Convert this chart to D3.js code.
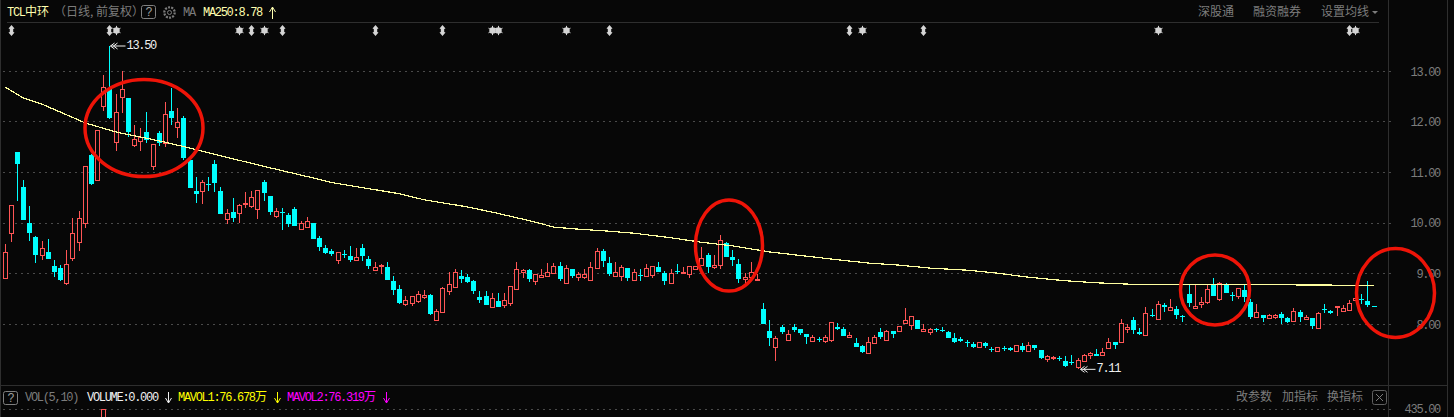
<!DOCTYPE html>
<html>
<head>
<meta charset="utf-8">
<title>TCL中环 日线</title>
<script src="https://cdn.jsdelivr.net/npm/d3@7"></script>
<style>
    html, body { margin: 0; padding: 0; background: #070707; }
    svg { display: block; }
    text { white-space: pre; }
    .num { font-family: "Liberation Mono", monospace; font-size: 12px; letter-spacing: -1.3px; }
    .cjk { font-family: "Noto Sans CJK SC", sans-serif; font-size: 12px; }
</style>
</head>
<body>
<div id="chart"></div>
<script>
// daily candles (index = trading day from the left)
const opens = [
    8.91,9.81,11.40,10.71,10.00,9.73,9.36,9.43,9.15,9.11,
    8.82,9.32,9.63,10.01,11.35,10.85,12.32,12.65,11.60,12.49,
    12.47,11.55,11.63,11.80,11.13,11.78,11.59,12.22,11.90,12.08,
    11.25,10.64,10.64,10.78,11.17,10.63,10.09,10.21,10.19,10.37,
    10.34,10.28,10.81,10.54,10.14,10.21,10.16,10.28,9.89,9.93,
    10.00,9.71,9.51,9.44,9.28,9.39,9.35,9.28,9.51,9.29,
    9.08,9.16,9.13,8.86,8.70,8.41,8.42,8.46,8.54,8.58,
    8.08,8.25,8.66,8.74,8.95,8.93,8.86,8.54,8.56,8.35,
    8.46,8.39,8.43,8.70,9.04,9.07,8.86,8.94,8.96,9.01,
    9.15,8.82,9.09,8.93,8.94,8.88,9.12,9.45,9.21,8.95,
    8.95,9.11,8.88,8.98,8.95,8.97,9.13,9.01,8.82,9.05,
    9.02,9.00,9.09,9.18,9.37,9.13,9.17,9.60,9.33,9.19,
    8.90,8.93,8.88,8.30,7.87,7.55,7.95,7.69,7.95,7.91,
    7.81,7.67,7.71,7.67,7.69,7.95,7.91,7.75,7.63,7.57,
    7.43,7.63,7.85,7.69,7.87,7.87,8.03,7.99,8.09,7.87,
    7.85,7.90,7.89,7.85,7.73,7.71,7.66,7.61,7.56,7.63,
    7.52,7.48,7.53,7.53,7.48,7.57,7.48,7.59,7.49,7.32,
    7.34,7.34,7.27,7.26,7.16,7.28,7.39,7.41,7.40,7.53,
    7.65,7.66,7.91,8.09,7.85,7.79,8.19,8.10,8.38,8.29,
    8.30,8.17,8.60,8.33,8.40,8.45,8.80,8.50,8.78,8.57,
    8.55,8.68,8.44,8.15,8.18,8.12,8.15,8.20,8.12,8.06,
    8.24,8.11,8.12,7.93,8.30,8.26,8.34,8.27,8.29,8.49,
    8.50,8.47,8.36
];
const closes = [
    9.42,10.35,11.17,10.06,9.81,9.36,9.50,9.30,9.04,8.88,
    9.19,9.80,10.11,11.12,10.77,11.84,12.69,12.08,12.19,12.66,
    11.80,11.66,11.70,11.64,11.56,11.59,12.15,12.08,11.99,11.28,
    10.70,10.57,10.81,10.76,10.80,10.17,10.19,10.10,10.35,10.39,
    10.51,10.65,10.59,10.22,10.24,10.19,9.98,9.94,10.00,10.04,
    9.69,9.53,9.41,9.39,9.42,9.37,9.27,9.33,9.35,9.16,
    9.13,9.18,8.87,8.68,8.42,8.49,8.55,8.59,8.58,8.20,
    8.26,8.71,8.79,9.03,8.90,8.83,8.66,8.48,8.38,8.51,
    8.34,8.49,8.75,9.09,9.07,8.90,8.99,8.97,9.03,9.15,
    8.90,9.11,8.95,8.99,8.99,9.13,9.44,9.25,8.99,9.03,
    9.13,8.92,9.03,8.96,9.11,9.15,9.03,8.86,9.01,9.03,
    9.03,9.15,9.15,9.32,9.13,9.17,9.66,9.33,9.27,8.90,
    8.93,9.03,8.89,8.01,7.73,7.72,7.84,7.80,7.89,7.82,
    7.75,7.75,7.69,7.75,8.05,7.91,7.77,7.79,7.55,7.45,
    7.65,7.75,7.75,7.87,7.81,7.97,8.09,8.16,7.91,7.91,
    7.91,7.88,7.87,7.73,7.65,7.67,7.64,7.55,7.66,7.57,
    7.50,7.55,7.51,7.49,7.59,7.49,7.59,7.53,7.33,7.37,
    7.35,7.32,7.17,7.24,7.29,7.39,7.43,7.37,7.45,7.66,
    7.59,8.02,7.95,7.89,7.81,8.22,8.17,8.40,8.34,8.34,
    8.18,8.15,8.42,8.36,8.45,8.69,8.56,8.82,8.62,8.55,
    8.71,8.54,8.14,8.24,8.12,8.18,8.18,8.12,8.05,8.26,
    8.14,8.15,7.97,8.22,8.28,8.23,8.37,8.32,8.43,8.51,
    8.49,8.38,8.35
];
const highs = [
    9.59,10.35,11.40,10.85,10.34,9.75,9.64,9.69,9.27,9.17,
    9.47,10.11,10.24,11.12,11.37,11.84,12.93,13.50,12.55,13.00,
    12.47,11.93,11.87,12.19,11.57,11.82,12.39,12.67,12.27,12.12,
    11.26,10.91,10.85,10.91,11.25,10.71,10.27,10.49,10.38,10.61,
    10.63,10.65,10.85,10.54,10.30,10.29,10.20,10.32,10.04,10.12,
    10.00,9.75,9.57,9.49,9.43,9.47,9.55,9.51,9.59,9.34,
    9.23,9.19,9.23,8.95,8.78,8.56,8.56,8.66,8.68,8.60,
    8.30,8.74,9.03,9.09,9.07,8.99,8.88,8.66,8.66,8.62,
    8.62,8.62,8.75,9.23,9.09,9.09,8.99,9.09,9.21,9.21,
    9.23,9.17,9.10,9.03,9.09,9.23,9.51,9.48,9.33,9.23,
    9.17,9.11,9.09,9.09,9.19,9.15,9.23,9.05,9.09,9.19,
    9.13,9.15,9.15,9.53,9.41,9.37,9.76,9.63,9.47,9.29,
    9.01,9.23,8.99,8.42,8.08,7.77,7.98,7.89,8.01,7.91,
    7.81,7.79,7.74,7.78,8.05,8.03,7.95,7.85,7.73,7.59,
    7.75,7.79,7.93,7.89,7.87,7.97,8.32,8.16,8.09,8.01,
    7.93,7.93,7.95,7.87,7.83,7.75,7.69,7.65,7.66,7.65,
    7.55,7.55,7.57,7.55,7.59,7.63,7.65,7.59,7.49,7.39,
    7.37,7.37,7.37,7.39,7.33,7.41,7.45,7.51,7.53,7.73,
    7.65,8.10,8.01,8.14,7.93,8.34,8.30,8.47,8.42,8.50,
    8.36,8.18,8.80,8.78,8.54,8.78,8.91,8.84,8.81,8.64,
    8.71,8.78,8.50,8.40,8.18,8.20,8.21,8.24,8.14,8.32,
    8.28,8.18,8.12,8.24,8.40,8.28,8.37,8.38,8.48,8.51,
    8.60,8.86,8.36
];
const lows = [
    8.91,9.63,10.44,10.06,9.65,9.22,9.28,9.30,8.94,8.86,
    8.78,9.26,9.45,9.91,10.75,10.85,12.22,12.06,11.42,12.17,
    11.71,11.51,11.42,11.59,11.05,11.52,11.50,11.94,11.68,11.25,
    10.70,10.40,10.38,10.64,10.62,10.17,9.99,10.02,10.00,10.30,
    10.30,10.08,10.44,10.16,10.11,9.86,9.92,9.94,9.89,9.90,
    9.69,9.45,9.38,9.35,9.19,9.32,9.23,9.28,9.25,9.09,
    9.06,8.99,8.87,8.58,8.40,8.36,8.36,8.42,8.50,8.18,
    8.06,8.25,8.58,8.74,8.82,8.82,8.60,8.42,8.38,8.35,
    8.34,8.32,8.36,8.70,8.91,8.84,8.78,8.94,8.96,8.99,
    8.86,8.82,8.91,8.86,8.90,8.86,9.12,9.14,8.95,8.95,
    8.86,8.86,8.88,8.86,8.95,8.91,9.03,8.78,8.82,8.99,
    9.01,8.92,9.07,9.18,9.01,9.09,9.09,9.33,9.15,8.82,
    8.80,8.90,8.86,8.00,7.57,7.27,7.81,7.69,7.85,7.79,
    7.61,7.67,7.66,7.63,7.65,7.89,7.77,7.75,7.55,7.43,
    7.43,7.63,7.71,7.69,7.73,7.87,8.01,7.89,7.91,7.87,
    7.79,7.85,7.85,7.73,7.63,7.65,7.55,7.53,7.56,7.53,
    7.45,7.48,7.47,7.47,7.48,7.45,7.48,7.49,7.31,7.25,
    7.29,7.27,7.15,7.19,7.11,7.28,7.31,7.37,7.40,7.51,
    7.51,7.66,7.83,7.81,7.79,7.79,8.14,8.10,8.24,8.26,
    8.10,8.05,8.35,8.33,8.32,8.41,8.56,8.46,8.62,8.46,
    8.50,8.44,8.10,8.15,8.05,8.10,8.10,8.01,8.03,8.05,
    8.05,8.09,7.91,7.93,8.23,8.21,8.16,8.27,8.29,8.49,
    8.40,8.34,8.35
];

// MA250, read at these candle positions
const maDays = [0,3,6,10,13,18,26,32,37,42,48,53,59,64,68,75,80,86,89,93,98,102,108,113,118,124,129,134,140,145,150,156,161,166,172,177,183,190,200,207,222];
const maValues = [12.69,12.47,12.35,12.14,11.98,11.80,11.60,11.42,11.27,11.12,10.95,10.80,10.68,10.58,10.46,10.32,10.19,10.02,9.92,9.88,9.84,9.80,9.71,9.62,9.55,9.43,9.36,9.29,9.21,9.17,9.11,9.07,9.01,8.93,8.86,8.82,8.79,8.79,8.79,8.78,8.77];

const priceTicks = [13, 12, 11, 10, 9, 8];
const volumeTicks = [435];

// only the tops of two volume bars are inside the crop
const volumeDays = [13, 16];
const volumeValues = [397, 437];

// event markers along the top of the chart
const arrowDays = [1, 17, 40, 45, 60, 71, 98, 137, 149, 218];
const starDays = [18, 38, 42, 79, 80, 91, 139, 187, 219];

const extremeDays = [17, 174];

const width = 1454, height = 417;
const RED = "#ff5555", CYAN = "#00ffff", GRID = "#4a4a4a", GRAY = "#7c7c7c", LINE = "#2e2e2e";
const PALE = "#ffffb0";

const svg = d3.select("#chart").append("svg")
    .attr("width", width)
    .attr("height", height);

svg.append("rect").attr("width", width).attr("height", height).attr("fill", "#070707");

const xScale = d3.scaleLinear().domain([0, 222]).range([5.01, 1374.01]);
const yScale = d3.scaleLinear().domain([8, 13]).range([324.3, 71.3]);
const yVolume = d3.scaleLinear().domain([0, 435]).range([496, 409]);

// candles sit on whole pixels, the spacing is a repeating 6,6,6,6,6,7
const cx = i => Math.floor(xScale(i)) + 0.5;
const snap = p => Math.round(yScale(p));

// frame
const frame = svg.append("g").attr("stroke", LINE).attr("shape-rendering", "crispEdges");
frame.append("line").attr("x1", 7).attr("x2", 1379).attr("y1", 22.5).attr("y2", 22.5);
frame.append("line").attr("x1", 0).attr("x2", 1447).attr("y1", 385.5).attr("y2", 385.5);
frame.append("line").attr("x1", 1388.5).attr("x2", 1388.5).attr("y1", 0).attr("y2", height);
frame.append("line").attr("x1", 1447.5).attr("x2", 1447.5).attr("y1", 0).attr("y2", height);
frame.append("line").attr("x1", 0.5).attr("x2", 0.5).attr("y1", 0).attr("y2", height).attr("stroke-width", 1);

// dotted grid
svg.append("g").selectAll("line")
    .data(priceTicks)
    .join("line")
    .attr("x1", 3)
    .attr("x2", 1391)
    .attr("y1", d => Math.floor(yScale(d)) + 0.5)
    .attr("y2", d => Math.floor(yScale(d)) + 0.5)
    .attr("stroke", GRID)
    .attr("stroke-dasharray", "2 4")
    .attr("shape-rendering", "crispEdges");

svg.append("g").selectAll("line")
    .data(volumeTicks)
    .join("line")
    .attr("x1", 3)
    .attr("x2", 1391)
    .attr("y1", d => yVolume(d) + 0.5)
    .attr("y2", d => yVolume(d) + 0.5)
    .attr("stroke", GRID)
    .attr("stroke-dasharray", "2 4")
    .attr("shape-rendering", "crispEdges");

// price axis
const priceAxis = d3.axisRight(yScale)
    .tickValues(priceTicks)
    .tickSize(0)
    .tickFormat(d3.format(".2f"));

const axisG = svg.append("g")
    .attr("transform", "translate(1440, 0)")
    .call(priceAxis);
axisG.select(".domain").remove();
axisG.selectAll("text")
    .attr("class", "num")
    .attr("x", 0)
    .attr("text-anchor", "end")
    .attr("fill", GRAY);

const volAxis = d3.axisRight(yVolume)
    .tickValues(volumeTicks)
    .tickSize(0)
    .tickFormat(d3.format(".2f"));

const volAxisG = svg.append("g")
    .attr("transform", "translate(1440, 0)")
    .call(volAxis);
volAxisG.select(".domain").remove();
volAxisG.selectAll("text")
    .attr("class", "num")
    .attr("x", 0)
    .attr("text-anchor", "end")
    .attr("fill", GRAY);

// candles
const days = d3.range(opens.length);
const isUp = i => closes[i] >= opens[i];

const plot = svg.append("g").attr("shape-rendering", "crispEdges");

plot.selectAll(".wick")
    .data(days)
    .join("line")
    .attr("class", "wick")
    .attr("x1", cx)
    .attr("x2", cx)
    .attr("y1", i => snap(highs[i]))
    .attr("y2", i => snap(lows[i]))
    .attr("stroke", i => isUp(i) ? RED : CYAN);

plot.selectAll(".body")
    .data(days)
    .join("rect")
    .attr("class", "body")
    .attr("x", i => isUp(i) ? cx(i) - 2 : cx(i) - 2.5)
    .attr("width", i => isUp(i) ? 4 : 5)
    .attr("y", i => {
        let top = snap(Math.max(opens[i], closes[i]));
        return isUp(i) ? top + 0.5 : top;
    })
    .attr("height", i => {
        let h = snap(Math.min(opens[i], closes[i])) - snap(Math.max(opens[i], closes[i]));
        return Math.max(h, 1);
    })
    .attr("fill", i => isUp(i) ? "#070707" : CYAN)
    .attr("stroke", i => isUp(i) ? RED : "none");

// volume bars
plot.selectAll(".vol")
    .data(volumeDays)
    .join("rect")
    .attr("class", "vol")
    .attr("x", d => cx(d) - 2)
    .attr("width", 4)
    .attr("y", (d, i) => Math.round(yVolume(volumeValues[i])) + 0.5)
    .attr("height", 20)
    .attr("fill", "#070707")
    .attr("stroke", RED);

// MA250, stair stepped like the terminal draws it
const maLine = d3.line()
    .x(d => xScale(d[0]))
    .y(d => yScale(d[1]));

svg.append("path")
    .datum(d3.zip(maDays, maValues))
    .attr("d", maLine)
    .attr("fill", "none")
    .attr("stroke", "#ffffa0")
    .attr("stroke-width", 1.2)
    .attr("shape-rendering", "crispEdges");

// markers on top
const MARK = "#d4d4d4";
const markers = svg.append("g").attr("fill", MARK);
markers.selectAll(".up-down")
    .data(arrowDays)
    .join("path")
    .attr("class", "up-down")
    .attr("transform", d => `translate(${cx(d)}, 30.5)`)
    .attr("d", "M0,-5.5 L3,-2 L1.7,-1.5 L1.7,1.5 L3,2 L0,5.5 L-3,2 L-1.7,1.5 L-1.7,-1.5 L-3,-2 Z");

markers.selectAll(".star")
    .data(starDays)
    .join("g")
    .attr("class", "star")
    .attr("transform", d => `translate(${cx(d)}, 30.5)`)
    .each(function () {
        let g = d3.select(this);
        g.append("circle").attr("r", 3.2);
        g.append("path")
            .attr("d", d3.symbol(d3.symbolAsterisk, 60)())
            .attr("stroke", MARK)
            .attr("stroke-width", 1)
            .attr("fill", "none");
    });

// high / low callouts
function callout(day, price, text) {
    let x0 = cx(day) + (day === 17 ? 1 : 2);
    let y0 = yScale(price);
    let g = svg.append("g").attr("stroke", "#f0f0f0").attr("fill", "none");
    g.append("path")
        .attr("d", `M${x0},${y0} h15 M${x0 + 4},${y0 - 3} L${x0},${y0} L${x0 + 4},${y0 + 3} M${x0 + 7},${y0 - 3} L${x0 + 3},${y0} L${x0 + 7},${y0 + 3}`)
        .attr("stroke-width", 1);
    svg.append("text")
        .attr("class", "num")
        .attr("x", x0 + 16)
        .attr("y", y0 + 3)
        .attr("fill", "#f0f0f0")
        .text(text);
}
extremeDays.forEach(d => {
    let price = d === 17 ? highs[d] : lows[d];
    callout(d, price, price.toFixed(2));
});

// header
function label(x, y, text, fill, cls, anchor) {
    return svg.append("text")
        .attr("class", cls)
        .attr("x", x)
        .attr("y", y)
        .attr("fill", fill)
        .attr("text-anchor", anchor || "start")
        .text(text);
}

function helpBox(x, y) {
    svg.append("rect")
        .attr("x", x + 0.5).attr("y", y + 0.5)
        .attr("width", 14).attr("height", 13).attr("rx", 2)
        .attr("fill", "none").attr("stroke", "#808080");
    label(x + 7.5, y + 11, "?", "#a0a0a0", "num", "middle");
}

function vArrow(x, y0, y1, color) {
    let dir = y1 > y0 ? -1 : 1;
    svg.append("path")
        .attr("d", `M${x},${y0} L${x},${y1} M${x - 3},${y1 + dir * 5} L${x},${y1} L${x + 3},${y1 + dir * 5}`)
        .attr("fill", "none")
        .attr("stroke", color)
        .attr("stroke-width", 1);
}

label(7, 16, "TCL", PALE, "num");
label(25, 16, "中环", PALE, "cjk");
label(54, 16, "（日线, 前复权）", GRAY, "cjk");
helpBox(141, 5);

// gear
const gear = svg.append("g").attr("transform", "translate(169.5, 12.5)").attr("fill", "none").attr("stroke", GRAY);
gear.append("circle").attr("r", 5.2).attr("stroke-width", 2.2).attr("stroke-dasharray", "2 1.2");
gear.append("circle").attr("r", 2).attr("stroke-width", 1);

label(183, 16, "MA", GRAY, "num");
label(203, 16, "MA250:8.78", PALE, "num");
vArrow(272.5, 19, 7, PALE);

label(1198, 16, "深股通", GRAY, "cjk");
label(1253, 16, "融资融券", GRAY, "cjk");
label(1321, 16, "设置均线", GRAY, "cjk");
svg.append("path").attr("d", "M1372,11 h6 l-3,3 Z").attr("fill", GRAY);

// volume legend
helpBox(3, 391);
label(25, 401, "VOL(5,10)", GRAY, "num");
label(87, 401, "VOLUME:0.000", "#f0f0f0", "num");
vArrow(168.5, 392, 403, "#f0f0f0");
label(178, 401, "MAVOL1:76.678", "#ffff00", "num");
label(255, 401, "万", "#ffff00", "cjk");
vArrow(277.5, 392, 403, "#ffff00");
label(287, 401, "MAVOL2:76.319", "#ff00ff", "num");
label(364, 401, "万", "#ff00ff", "cjk");
vArrow(386.5, 392, 403, "#ff00ff");

label(1236, 401, "改参数", GRAY, "cjk");
label(1282, 401, "加指标", GRAY, "cjk");
label(1327, 401, "换指标", GRAY, "cjk");
svg.append("rect").attr("x", 1372.5).attr("y", 390.5).attr("width", 14).attr("height", 14).attr("rx", 2)
    .attr("fill", "none").attr("stroke", "#606060");
svg.append("path").attr("d", "M1376,394 l7,7 M1383,394 l-7,7").attr("stroke", GRAY).attr("fill", "none");

// hand drawn red circles
const circles = [
    { cx: 144, cy: 128, rx: 59, ry: 48.5 },
    { cx: 729, cy: 245.5, rx: 33.5, ry: 45.5 },
    { cx: 1215, cy: 290, rx: 34.5, ry: 35 },
    { cx: 1395.5, cy: 293, rx: 39, ry: 44.5 }
];
svg.append("g").selectAll("ellipse")
    .data(circles)
    .join("ellipse")
    .attr("cx", d => d.cx)
    .attr("cy", d => d.cy)
    .attr("rx", d => d.rx)
    .attr("ry", d => d.ry)
    .attr("fill", "none")
    .attr("stroke", "#ee1408")
    .attr("stroke-width", 3.5);
</script>
</body>
</html>
